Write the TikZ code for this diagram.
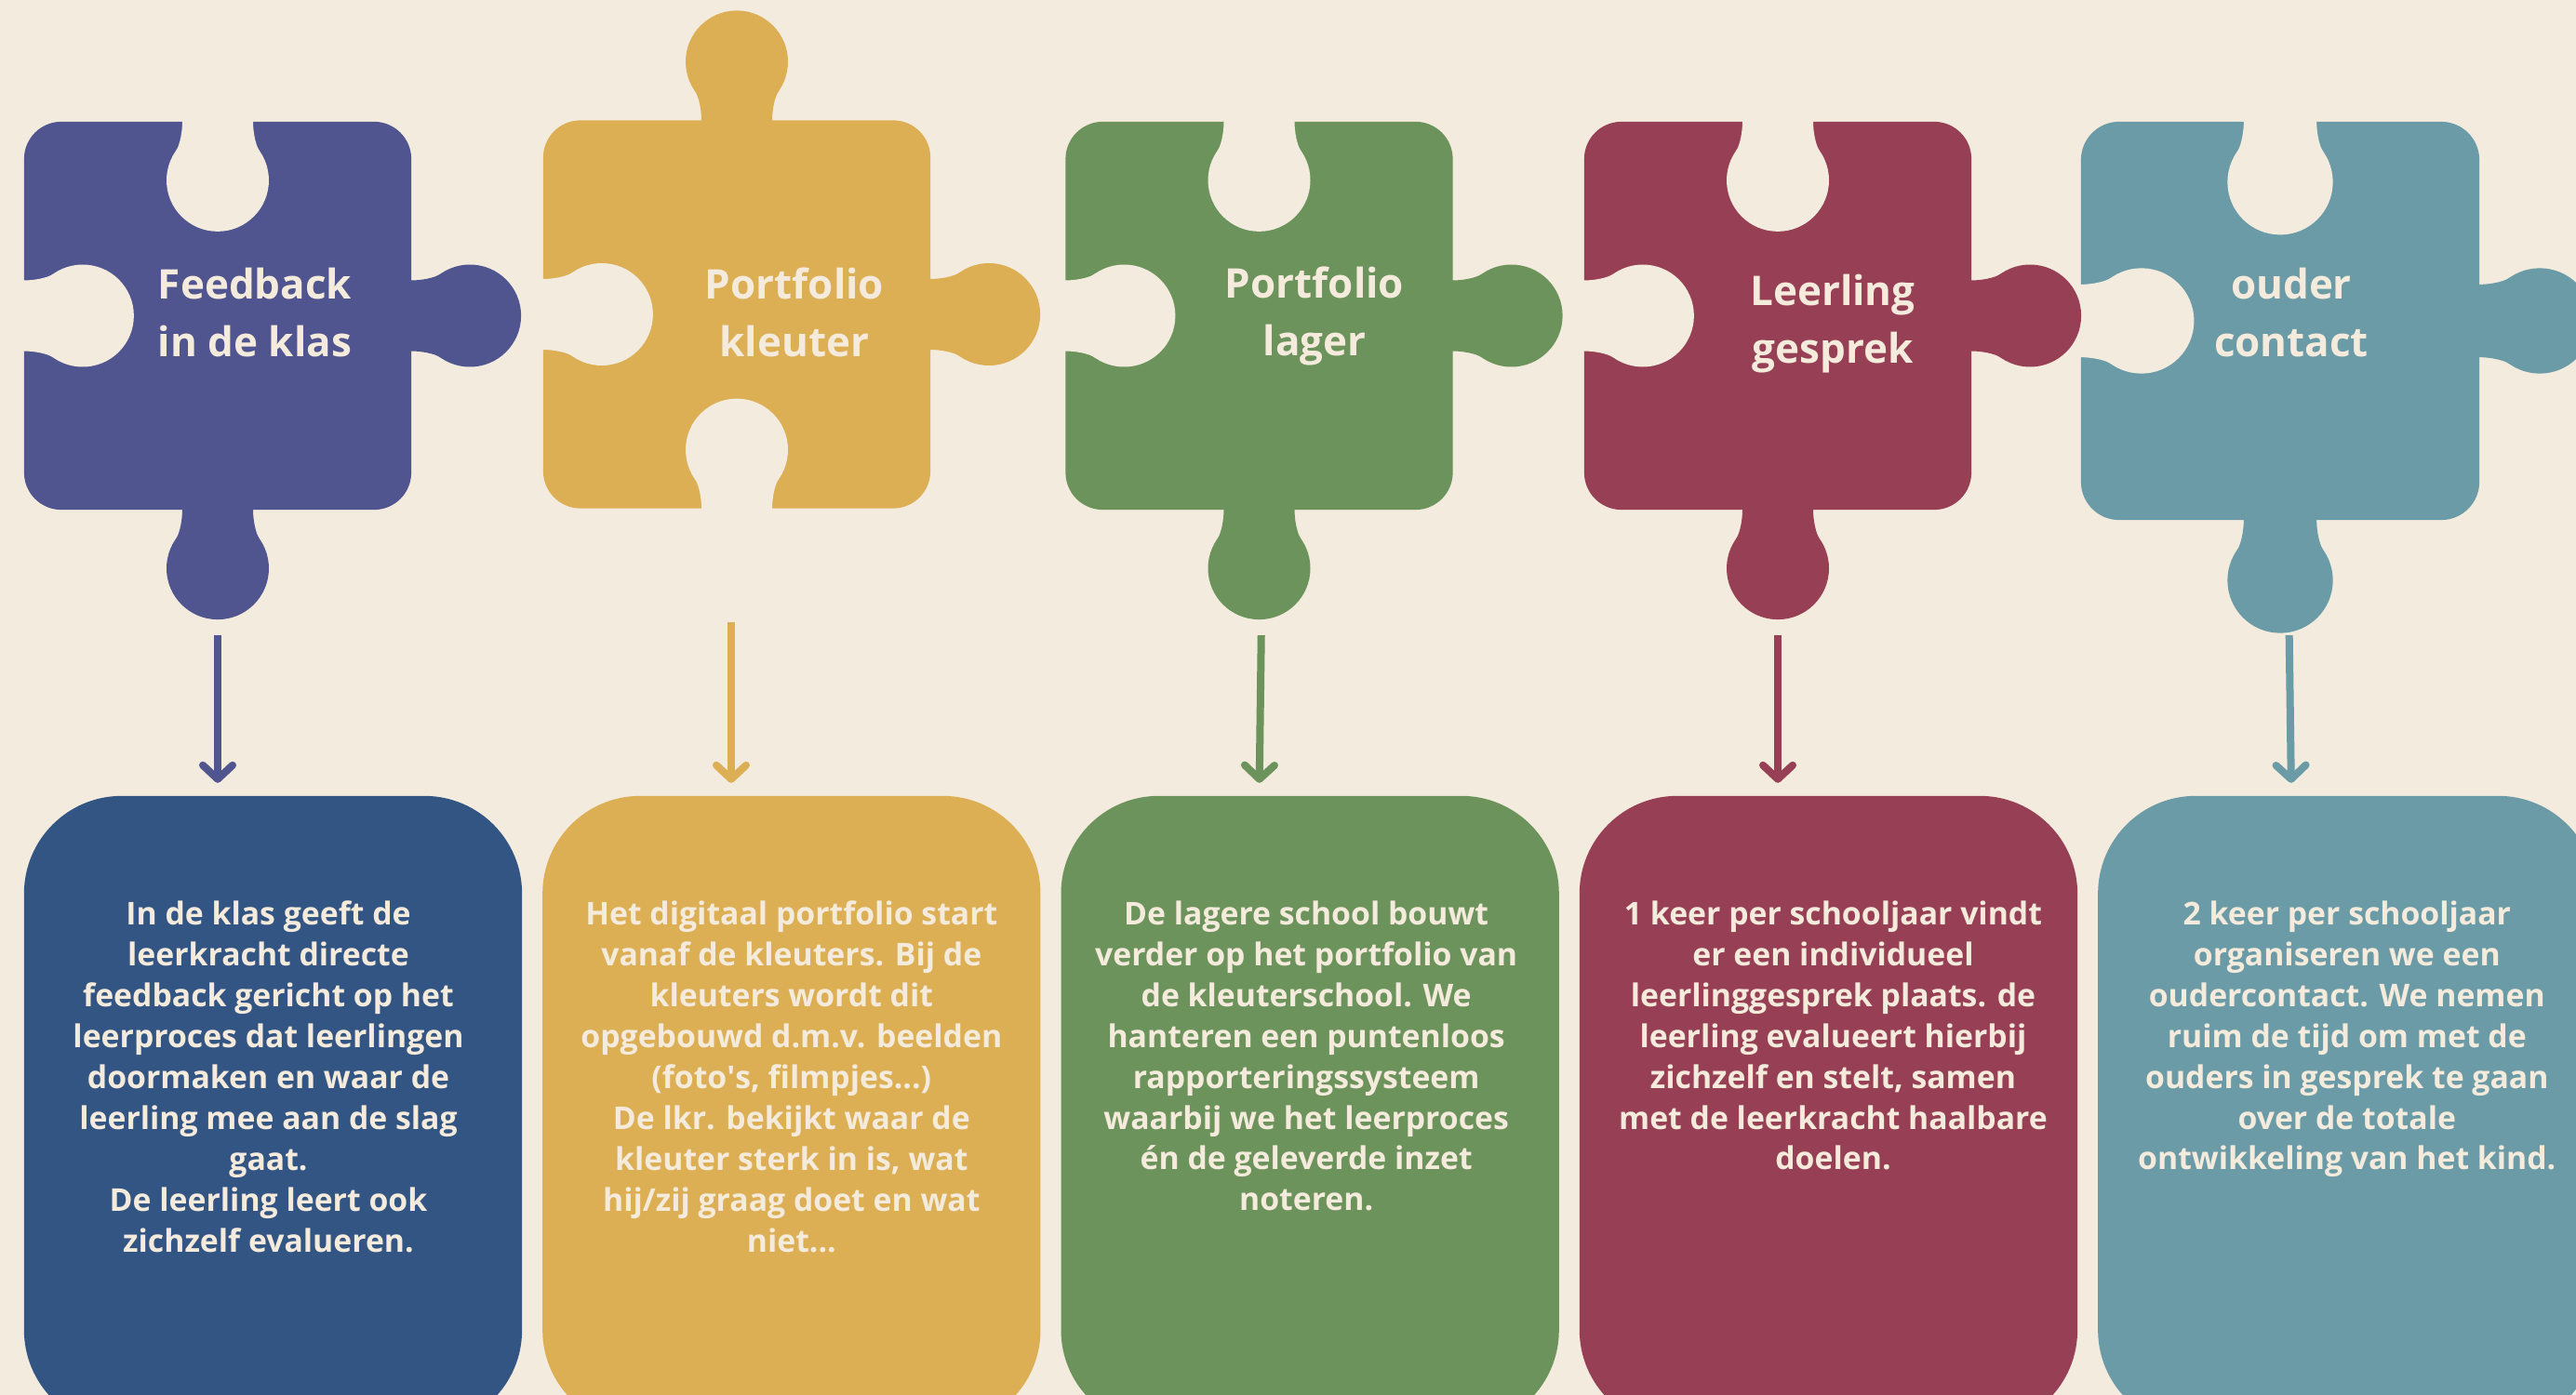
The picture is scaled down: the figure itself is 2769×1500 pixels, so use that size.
\documentclass[tikz,border=0pt]{standalone}
\usepackage{fontspec}
\setmainfont{Open Sans}
\usetikzlibrary{positioning,arrows.meta}

\definecolor{bg}{HTML}{F3EBDD}
\definecolor{cream}{HTML}{F4EBDC}
\definecolor{purp}{HTML}{505590}
\definecolor{gold}{HTML}{DCAF55}
\definecolor{leaf}{HTML}{6C935C}
\definecolor{wine}{HTML}{973F54}
\definecolor{sea}{HTML}{6A9BA6}
\definecolor{ink}{HTML}{335584}

\tikzset{
  body/.style={rectangle, inner sep=0pt, outer sep=0pt, minimum width=4.16cm,
    minimum height=4.17cm, rounded corners=0.4cm},
  title/.style={text=cream, align=center, inner sep=0pt,
    font=\bfseries\fontsize{12.5pt}{17.6pt}\selectfont},
  card/.style={rectangle, inner sep=0pt, outer sep=0pt, minimum width=5.35cm,
    minimum height=6.79cm, rounded corners=1.05cm},
  txt/.style={text=cream, align=center, inner sep=0pt,
    font=\bfseries\fontsize{9.6pt}{12.5pt}\selectfont},
  arr/.style={draw=#1, line width=0.08cm, shorten <=1.35cm, shorten >=0.14cm,
    -{Straight Barb[length=0.15cm, width=0.32cm, round]}}
}

% knob of a puzzle piece: at, angle, colour, scale
\newcommand{\knob}[4]{%
  \begin{scope}[shift={#1}, rotate=#2, scale=#4]
    \fill[#3] (-2,38) -- (0,38) .. controls (10,38) and (24.9,40.4) .. (31.5,45)
      -- (31.5,-45) .. controls (24.9,-40.4) and (10,-38) .. (0,-38) -- (-2,-38) -- cycle;
    \fill[#3] (63,0) circle[radius=55];
  \end{scope}}

\begin{document}
\begin{tikzpicture}[x=0.01cm, y=-0.01cm]
    \useasboundingbox (0,0) rectangle (2769,1500);
    \clip (0,0) rectangle (2769,1500);
    \fill[bg] (0,0) rectangle (2769,1500);

    % puzzle pieces
    \node[body, fill=purp] (p1) at (234,339.5) {};
    \node[body, fill=gold] (p2) at (792,338) {};
    \node[body, fill=leaf] (p3) at (1353.5,339.5) {};
    \node[body, fill=wine] (p4) at (1911,339.5) {};
    \node[body, fill=sea, minimum width=4.28cm, minimum height=4.28cm,
      rounded corners=0.41cm] (p5) at (2451,345) {};

    % holes
    \knob{(p1.north)}{-90}{bg}{1}
    \knob{(p1.west)}{0}{bg}{1}
    \knob{(p2.west)}{0}{bg}{1}
    \knob{(p2.south)}{90}{bg}{1}
    \knob{(p3.north)}{-90}{bg}{1}
    \knob{(p3.west)}{0}{bg}{1}
    \knob{(p4.north)}{-90}{bg}{1}
    \knob{(p4.west)}{0}{bg}{1}
    \knob{(p5.north)}{-90}{bg}{1.03}
    \knob{(p5.west)}{0}{bg}{1.03}

    % tabs
    \knob{(p1.east)}{0}{purp}{1}
    \knob{(p1.south)}{-90}{purp}{1}
    \knob{(p2.north)}{90}{gold}{1}
    \knob{(p2.east)}{0}{gold}{1}
    \knob{(p3.east)}{0}{leaf}{1}
    \knob{(p3.south)}{-90}{leaf}{1}
    \knob{(p4.east)}{0}{wine}{1}
    \knob{(p4.south)}{-90}{wine}{1}
    \knob{(p5.east)}{0}{sea}{1.03}
    \knob{(p5.south)}{-90}{sea}{1.03}

    \node[title] (t1) at (274,336) {Feedback\\in de klas};
    \node[title] (t2) at (854,336) {Portfolio\\kleuter};
    \node[title] (t3) at (1413,340) {Portfolio\\lager};
    \node[title] (t4) at (1970,348) {Leerling\\gesprek};
    \node[title] (t5) at (2463,336) {ouder\\contact};

    % cards
    \node[card, fill=ink] (b1) at (293.5,1195.5) {};
    \node[card, fill=gold, right=0.22cm of b1] (b2) {};
    \node[card, fill=leaf, right=0.22cm of b2] (b3) {};
    \node[card, fill=wine, right=0.22cm of b3] (b4) {};
    \node[card, fill=sea, right=0.22cm of b4] (b5) {};

    \node[txt, below=1.12cm of b1.north, xshift=-0.05cm] (d1) {In de klas geeft de\\leerkracht directe\\feedback gericht op het\\leerproces dat leerlingen\\doormaken en waar de\\leerling mee aan de slag\\gaat.\\De leerling leert ook\\zichzelf evalueren.};
    \node[txt, below=1.12cm of b2.north] (d2) {Het digitaal portfolio start\\vanaf de kleuters. Bij de\\kleuters wordt dit\\opgebouwd d.m.v. beelden\\(foto\textquotesingle s, filmpjes...)\\De lkr. bekijkt waar de\\kleuter sterk in is, wat\\hij/zij graag doet en wat\\niet...};
    \node[txt, below=1.12cm of b3.north, xshift=-0.04cm] (d3) {De lagere school bouwt\\verder op het portfolio van\\de kleuterschool. We\\hanteren een puntenloos\\rapporteringssysteem\\waarbij we het leerproces\\én de geleverde inzet\\noteren.};
    \node[txt, below=1.12cm of b4.north, xshift=0.05cm] (d4) {1 keer per schooljaar vindt\\er een individueel\\leerlinggesprek plaats. de\\leerling evalueert hierbij\\zichzelf en stelt, samen\\met de leerkracht haalbare\\doelen.};
    \node[txt, below=1.12cm of b5.north] (d5) {2 keer per schooljaar\\organiseren we een\\oudercontact. We nemen\\ruim de tijd om met de\\ouders in gesprek te gaan\\over de totale\\ontwikkeling van het kind.};

    % arrows
    \draw[arr=purp] (p1.south) -- (p1.south |- b1.north);
    \draw[arr=gold, shorten <=1.22cm, transform canvas={xshift=-0.06cm}] (p2.south) -- (p2.south |- b2.north);
    \draw[arr=leaf] ([xshift=0.04cm]p3.south) -- (p3.south |- b3.north);
    \draw[arr=wine] (p4.south) -- (p4.south |- b4.north);
    \draw[arr=sea, shorten <=1.24cm] ([xshift=0.08cm]p5.south) -- ([xshift=0.12cm]p5.south |- b5.north);
\end{tikzpicture}
\end{document}
